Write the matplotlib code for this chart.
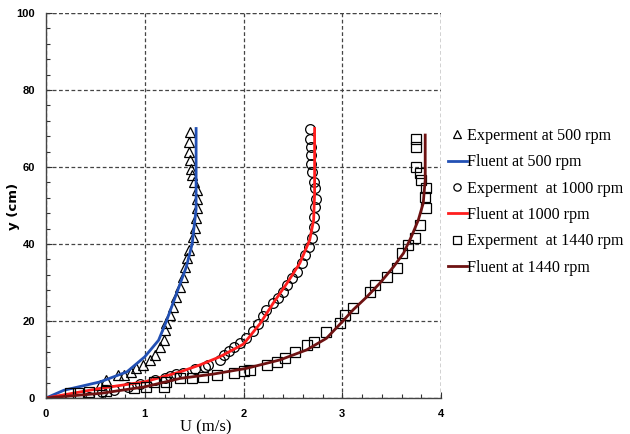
import matplotlib
matplotlib.use("Agg")
import matplotlib.pyplot as plt
from matplotlib.ticker import MultipleLocator

# ---- data ----
exp500_U = [0.55, 0.61, 0.73, 0.79, 0.86, 0.91, 0.98, 1.05, 1.10, 1.15, 1.19, 1.21, 1.22, 1.26, 1.29,
            1.32, 1.36, 1.39, 1.41, 1.43, 1.45, 1.49, 1.51, 1.52, 1.53, 1.53, 1.53, 1.50, 1.48,
            1.47, 1.46, 1.45, 1.45, 1.46]
exp500_y = [3.4, 4.7, 6.0, 6.0, 6.8, 7.7, 8.6, 9.9, 11.2, 13.3, 15.1, 17.7, 19.4, 21.6, 23.7,
            26.3, 28.9, 31.5, 34.1, 36.3, 38.4, 41.9, 44.1, 46.7, 49.3, 51.8, 54.0, 56.2, 57.9,
            59.6, 61.8, 64.0, 66.6, 69.2]

fluent500_U = [0, 0.18, 0.55, 0.82, 1.0, 1.14, 1.22, 1.32, 1.42, 1.48, 1.52, 1.52, 1.52]
fluent500_y = [0, 2.0, 4.2, 6.8, 10.7, 15.0, 20.0, 27.0, 34.0, 40.0, 49.0, 55.0, 70.0]

exp1000_U = [0.44, 0.57, 0.69, 0.83, 0.95, 1.10, 1.20, 1.26, 1.32, 1.39, 1.51, 1.61, 1.64, 1.76,
             1.80, 1.85, 1.90, 1.96, 2.03, 2.10, 2.15, 2.20, 2.23, 2.30, 2.35, 2.40, 2.44, 2.49,
             2.54, 2.59, 2.62, 2.66, 2.69, 2.71, 2.71, 2.72, 2.73, 2.72, 2.71, 2.69, 2.68, 2.68,
             2.68, 2.67, 2.67]
exp1000_y = [0.3, 1.6, 2.1, 2.9, 3.6, 4.6, 5.2, 5.8, 6.2, 6.6, 7.5, 8.1, 8.6, 9.9,
             11.2, 12.3, 13.2, 14.4, 15.5, 17.5, 19.2, 21.4, 22.9, 24.6, 25.9, 27.6, 29.4, 31.1,
             32.8, 35.0, 37.1, 39.3, 41.5, 44.5, 47.1, 49.7, 51.6, 54.5, 56.2, 58.8, 60.9, 63.1,
             65.3, 67.4, 70.0]

fluent1000_U = [0, 0.55, 1.0, 1.36, 1.56, 1.76, 2.0, 2.17, 2.30, 2.44, 2.57, 2.67, 2.71, 2.72, 2.72]
fluent1000_y = [0, 2.5, 4.2, 6.8, 8.6, 10.7, 14.0, 19.4, 24.6, 29.8, 35.0, 41.0, 46.2, 53.0, 70.0]

exp1440_U = [0.24, 0.32, 0.44, 0.61, 0.89, 1.01, 1.19, 1.09, 1.22, 1.36, 1.48, 1.59, 1.73, 1.90,
             2.00, 2.07, 2.24, 2.34, 2.42, 2.52, 2.64, 2.71, 2.84, 2.98, 3.03, 3.11, 3.28, 3.33,
             3.45, 3.55, 3.61, 3.67, 3.74, 3.79, 3.85, 3.84, 3.85, 3.80, 3.79, 3.75, 3.75, 3.75]
exp1440_y = [1.2, 1.4, 1.6, 1.9, 2.5, 2.9, 2.9, 4.2, 4.2, 5.1, 5.1, 5.5, 5.9, 6.6,
             7.1, 7.4, 8.6, 9.4, 10.3, 12.0, 13.8, 14.6, 17.2, 19.4, 21.6, 23.5, 27.6, 29.4,
             31.5, 33.7, 37.6, 39.7, 41.5, 44.9, 49.3, 52.3, 54.5, 56.6, 58.4, 60.1, 65.3, 67.4]

fluent1440_U = [0, 0.55, 1.0, 1.36, 1.69, 2.03, 2.37, 2.64, 2.84, 3.0, 3.11, 3.25, 3.38, 3.52,
                3.62, 3.70, 3.77, 3.82, 3.84, 3.84]
fluent1440_y = [0, 1.2, 2.9, 5.1, 6.2, 7.7, 9.9, 12.5, 15.5, 19.8, 22.9, 26.3, 29.8, 34.1,
                37.6, 41.9, 46.2, 50.6, 56.6, 68.3]

labels = ["Experment at 500 rpm", "Fluent at 500 rpm", "Experment  at 1000 rpm",
          "Fluent at 1000 rpm", "Experment  at 1440 rpm", "Fluent at 1440 rpm"]

# ---- figure ----
fig = plt.figure(figsize=(6.3, 4.34), dpi=100)
ax = fig.add_axes([46 / 630, 36 / 434, 395 / 630, 385 / 434])

mk = dict(linestyle="none", markerfacecolor="none", markeredgecolor="black", markeredgewidth=0.9)
h1, = ax.plot(exp500_U, exp500_y, marker="^", markersize=7.5, **mk)
h2, = ax.plot(fluent500_U, fluent500_y, color="#2250b4", lw=2.0)
h3, = ax.plot(exp1000_U, exp1000_y, marker="o", markersize=7, **mk)
h4, = ax.plot(fluent1000_U, fluent1000_y, color="#ff1e1e", lw=2.0)
h5, = ax.plot(exp1440_U, exp1440_y, marker="s", markersize=7, **mk)
h6, = ax.plot(fluent1440_U, fluent1440_y, color="#6e1212", lw=2.0)

ax.set_xlim(0, 4)
ax.set_ylim(0, 100)
ax.xaxis.set_major_locator(MultipleLocator(1))
ax.xaxis.set_minor_locator(MultipleLocator(0.2))
ax.yaxis.set_major_locator(MultipleLocator(20))
ax.yaxis.set_minor_locator(MultipleLocator(4))
ax.tick_params(which="both", direction="in", color="#333333")
ax.tick_params(which="major", length=4, width=0.8)
ax.tick_params(which="minor", length=3, width=0.8)
ax.tick_params(axis="x", pad=8)
ax.tick_params(axis="y", pad=8)
for lab in ax.get_xticklabels() + ax.get_yticklabels():
    lab.set_fontfamily("Liberation Sans")
    lab.set_fontweight("bold")
    lab.set_fontsize(8)

ax.spines["top"].set_visible(False)
ax.spines["right"].set_visible(False)
for s in ("left", "bottom"):
    ax.spines[s].set_color("#444444")
    ax.spines[s].set_linewidth(1.0)

ax.grid(True, which="major", linestyle=(0, (3, 2)), color="#444444", linewidth=0.9)
ax.set_axisbelow(True)
ax.axvline(4, linestyle=(0, (3, 2)), color="#444444", linewidth=0.9, zorder=0.5)
ax.axhline(100, linestyle=(0, (3, 2)), color="#444444", linewidth=0.9, zorder=0.5)

fig.text(206 / 630, 1 - 427 / 434, "U (m/s)", family="Liberation Serif", fontsize=12,
         ha="center", va="center")
fig.text(13 / 630, 1 - 206 / 434, "y (cm)", family="DejaVu Sans", fontweight="bold",
         fontsize=9.5, rotation=90, ha="center", va="center")

leg = fig.legend([h1, h2, h3, h4, h5, h6], labels, loc="upper left",
                 bbox_to_anchor=(448 / 630, 1 - 128 / 434), frameon=False,
                 borderaxespad=0, borderpad=0,
                 prop={"family": "Liberation Serif", "size": 11.6},
                 handlelength=1.15, handletextpad=0.06, labelspacing=0.64, markerscale=0.75)

fig.savefig("out.png", dpi=100)
